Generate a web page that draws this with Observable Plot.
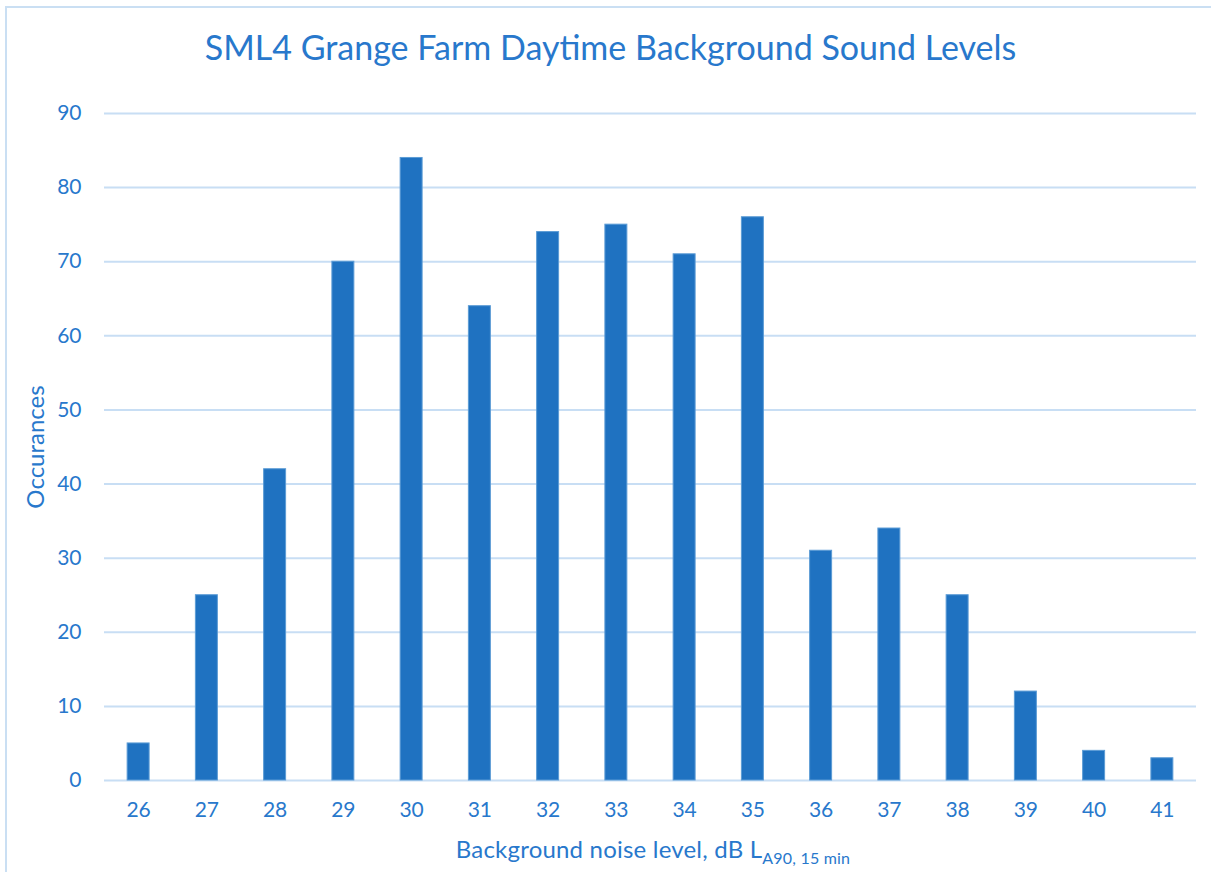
<!DOCTYPE html>
<html><head><meta charset="utf-8">
<script src="https://cdn.jsdelivr.net/npm/d3@7"></script>
<script src="https://cdn.jsdelivr.net/npm/@observablehq/plot@0.6"></script>
<style>
body{margin:0;background:#fff;}
#wrap{position:relative;width:1211px;height:872px;overflow:hidden;font-family:Lato, "Open Sans", sans-serif;color:#2878CC;}
#frame{position:absolute;left:5px;top:6px;width:1300px;height:1000px;border:2px solid #CADFF3;box-sizing:border-box;}
#title{position:absolute;left:0;top:27px;width:1221px;text-align:center;font-size:34px;line-height:40px;white-space:nowrap;}
#ylab{position:absolute;left:35px;top:447px;transform:translate(-50%,-50%) rotate(-90deg);font-size:24px;line-height:28px;white-space:nowrap;}
#xlab{position:absolute;left:0;top:835px;width:1306px;text-align:center;font-size:24px;line-height:28px;white-space:nowrap;letter-spacing:0.2px;}
#xlab sub{font-size:16px;vertical-align:-6px;line-height:0;}
#chart{position:absolute;left:0;top:0;}
</style></head>
<body><div id="wrap"><div id="frame"></div><div id="chart"></div>
<div id="title">SML4 Grange Farm Daytime Background Sound Levels</div>
<div id="ylab">Occurances</div>
<div id="xlab">Background noise level, dB L<sub>A90, 15 min</sub></div>
</div>
<script>
const levels = [26,27,28,29,30,31,32,33,34,35,36,37,38,39,40,41];
const occurrences = [5,25,42,70,84,64,74,75,71,76,31,34,25,12,4,3];
const yTicks = [0,10,20,30,40,50,60,70,80,90];
const data = levels.map((l,i)=>({level:l, count:occurrences[i]}));
const blue = "#2878CC";
const chart = Plot.plot({
  width:1211, height:872,
  marginLeft:104, marginRight:15, marginTop:113, marginBottom:92,
  style:{fontFamily:"Lato, 'Open Sans', sans-serif", fontSize:"21px", color:blue, background:"transparent"},
  x:{type:"band", domain:levels, paddingInner:0.678, paddingOuter:0.339, align:0.5, round:false, label:null},
  y:{domain:[0,90], label:null},
  marks:[
    Plot.ruleY(yTicks,{stroke:"#C8DEF4", strokeWidth:2}),
    Plot.barY(data,{x:"level", y:"count", fill:"#1F72C1", stroke:"#5B9BD5", strokeWidth:1, inset:0}),
    Plot.axisY({ticks:yTicks, tickSize:0, tickPadding:23, fill:blue, fontSize:21}),
    Plot.axisX({tickSize:0, tickPadding:22, fill:blue, fontSize:21})
  ]
});
document.getElementById("chart").appendChild(chart);
</script></body></html>
